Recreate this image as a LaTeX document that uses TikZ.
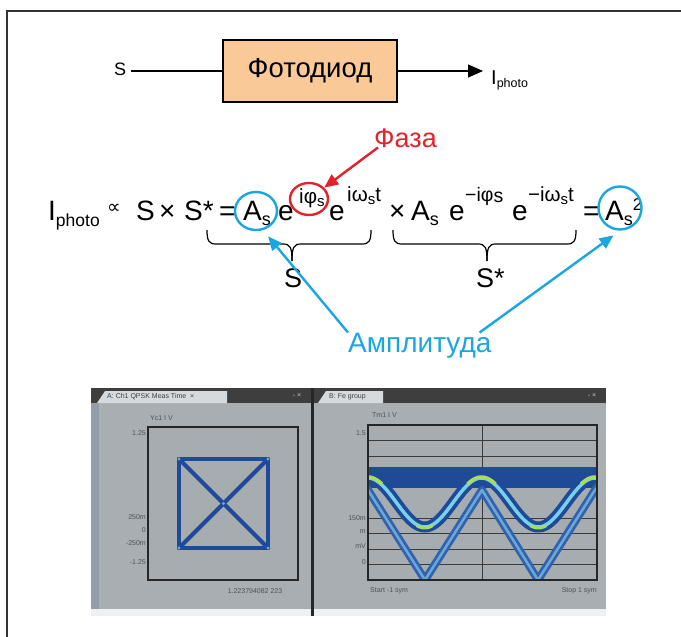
\documentclass[tikz,border=0pt]{standalone}
\usepackage{fontspec}
\setmainfont{Liberation Sans}
\newfontfamily\dejavu{DejaVu Sans}
\usetikzlibrary{arrows.meta,shapes.geometric}
\newcommand\fs[1]{\fontsize{#1}{#1}\selectfont}
\definecolor{cyanA}{HTML}{1AA7E0}
\definecolor{redA}{HTML}{E3232B}
\definecolor{boxfill}{HTML}{FAC998}
\definecolor{panel}{HTML}{A9AEB2}
\definecolor{panelstrip}{HTML}{939DA9}
\definecolor{plotbg}{HTML}{A6ACAF}
\definecolor{titlebar}{HTML}{3E3E3E}
\definecolor{tabc}{HTML}{D6DADC}
\definecolor{dblue}{HTML}{1F4A98}
\definecolor{mblue}{HTML}{2F63AE}
\definecolor{lblue}{HTML}{6FA6D8}
\definecolor{tcyan}{HTML}{79D0EC}
\definecolor{tgreen}{HTML}{A8DE5C}
\definecolor{gridc}{HTML}{3A3A3A}
\definecolor{smalltxt}{HTML}{4E5256}
\begin{document}
\begin{tikzpicture}[x=1pt,y=-1pt,
  eq/.style={anchor=base west,inner sep=0pt,font=\fs{28}},
  sup/.style={anchor=base west,inner sep=0pt,font=\fs{20.5}},
  bracepath/.style={line width=1.2pt,black},
  cyanarrow/.style={draw=cyanA,line width=2.4pt,-{Triangle[length=14pt,width=12pt]}},
  redarrow/.style={draw=redA,line width=2.4pt,-{Triangle[length=14pt,width=12pt]}},
  ring/.style={ellipse,draw,line width=2.4pt,inner sep=0pt},
  tiny/.style={inner sep=0pt,font=\fs{7},text=smalltxt},
  gridline/.style={draw=gridc,line width=0.8pt}]
\useasboundingbox (0,0) rectangle (681,637);
\fill[white] (0,0) rectangle (681,637);
% frame
\draw[line width=1.6pt,color=black!80] (7,637) -- (7,11) -- (681,11);

% ---- top block diagram ----
\node[anchor=base west,inner sep=0pt,font=\fs{18}] (sin) at (114,75) {S};
\node[draw,line width=1.2pt,fill=boxfill,minimum width=174pt,minimum height=62pt,inner sep=0pt,font=\fs{27.5}] (pd) at (310,71) {Фотодиод};
\node[anchor=base west,inner sep=0pt,font=\fs{20}] (iout) at (491,84) {I\raisebox{-3pt}{\fs{12.5}photo}};
\draw[line width=1.2pt] ([xshift=5pt]sin.east |- pd.west) -- (pd.west);
\draw[line width=1.2pt,-{Triangle[length=15pt,width=13pt]},shorten >=8pt] (pd.east) -- (pd.east -| iout.west);

% ---- equation ----
\node[eq] (ip) at (48,220) {I\raisebox{-6pt}{\fs{17.5}photo}};
\node[eq,font=\dejavu\fs{19}] (prop) at (107,213) {∝};
\node[eq] (s1) at (136,220) {S};
\node[eq] (x1) at (159,220) {×};
\node[eq] (s2) at (184,220) {S*};
\node[eq] (eq1) at (219,220) {=};
\node[eq] (a1) at (243,220) {A\raisebox{-5pt}{\fs{18}s}};
\node[eq] (e1) at (278,220) {e};
\node[sup] (ph1) at (299,203) {iφ\raisebox{-3pt}{\fs{15}s}};
\node[eq] (e2) at (329,220) {e};
\node[sup] (om1) at (347,201) {iω\raisebox{-3pt}{\fs{15}s}t};
\node[eq] (x2) at (389,220) {×};
\node[eq] (a2) at (411,220) {A\raisebox{-5pt}{\fs{18}s}};
\node[eq] (e3) at (449,220) {e};
\node[sup,font=\fs{19.5}] (ph2) at (465,201) {−iφ\raisebox{-1pt}{s}};
\node[eq] (e4) at (512,220) {e};
\node[sup] (om2) at (528,201) {−iω\raisebox{-3pt}{\fs{15}s}t};
\node[eq] (eq2) at (583,220) {=};
\node[eq] (a3) at (605,220) {A\raisebox{-5pt}{\fs{18}s}\raisebox{10pt}{\fs{17}2}};

% braces
\draw[bracepath] (207,230) .. controls (207,241) and (209,244) .. (216,244) -- (283,244) .. controls (290,244) and (292,247) .. (292,261);
\draw[bracepath] (292,261) .. controls (292,247) and (294,244) .. (301,244) -- (362,244) .. controls (369,244) and (371,241) .. (371,230);
\draw[bracepath] (393,230) .. controls (393,241) and (395,244) .. (402,244) -- (478,244) .. controls (485,244) and (487,247) .. (487,261);
\draw[bracepath] (487,261) .. controls (487,247) and (489,244) .. (496,244) -- (567,244) .. controls (574,244) and (576,241) .. (576,230);
\node[anchor=base west,inner sep=0pt,font=\fs{27}] (slab) at (284,287) {S};
\node[anchor=base west,inner sep=0pt,font=\fs{27}] (sslab) at (476,287) {S*};

% rings
\node[ring,draw=cyanA,minimum width=42pt,minimum height=38pt] (c1) at (256,211) {};
\node[ring,draw=redA,minimum width=38pt,minimum height=32pt] (rc) at (309,199) {};
\node[ring,draw=cyanA,minimum width=43pt,minimum height=43pt] (c2) at (620,208) {};

% labels and arrows
\node[anchor=base west,inner sep=0pt,font=\fs{27},text=redA] (fz) at (374,147) {Фаза};
\draw[redarrow] ([xshift=4pt]fz.south west) -- (rc);
\node[anchor=base west,inner sep=0pt,font=\fs{28},text=cyanA] (amp) at (348,352) {Амплитуда};
\draw[cyanarrow,shorten >=8pt] (amp.north west) -- (c1.290);
\draw[cyanarrow,shorten >=8pt] ([xshift=-12pt]amp.north east) -- (c2.south);

% ---- screenshots ----
% left panel
\fill[panel] (91,388) rectangle (311,616);
\fill[panelstrip] (91,403) rectangle (99,609);
\fill[titlebar] (91,388) rectangle (311,403);
\fill[tabc] (97,403) -- (105,391) -- (227,391) -- (227,403) -- cycle;
\node[tiny,anchor=west,text=black!75] (tabA) at (107,397) {A: Ch1 QPSK Meas Time \ ×};
\node[tiny,text=white!80!black] (ctlA) at (297,396) {- ×};
\fill[white!82!panel] (91,609) rectangle (311,616);
\node[draw=black!85,line width=1.5pt,fill=plotbg,minimum width=150pt,minimum height=153pt,inner sep=0pt] (plotA) at (223,503.5) {};
\node[tiny,anchor=west] (yla) at (150,418) {Yc1 I V};
\node[tiny,anchor=east] (la1) at (146,433) {1.25};
\node[tiny,anchor=east] (la2) at (146,517) {250m};
\node[tiny,anchor=east] (la3) at (146,530) {0};
\node[tiny,anchor=east] (la4) at (146,543) {-250m};
\node[tiny,anchor=east] (la5) at (146,562) {-1.25};
\node[tiny] (xla) at (255,591) {1.223794082 223};
% constellation
\draw[dblue,line width=4.5pt,line join=round] (179,459) rectangle (268,548);
\draw[dblue,line width=4pt,line cap=round] (179,459) -- (268,548);
\draw[dblue,line width=4pt,line cap=round] (268,459) -- (179,548);
\foreach \p in {(179,459),(268,459),(179,548),(268,548),(223.5,503.5)}
  \fill[lblue] \p circle (1.6pt);

% divider
\fill[black!85] (311,388) rectangle (314,616);

% right panel
\fill[panel] (314,388) rectangle (606,616);
\fill[titlebar] (314,388) rectangle (606,403);
\fill[tabc] (318,403) -- (326,391) -- (383,391) -- (383,403) -- cycle;
\node[tiny,anchor=west,text=black!75] (tabB) at (329,397) {B: Fe group};
\node[tiny,text=white!80!black] (ctlB) at (592,396) {- ×};
\fill[white!82!panel] (314,609) rectangle (606,616);
\fill[plotbg] (368,425) rectangle (597,580);
\foreach \yy in {440.5,456,471.5,487,518,533.5,549,564.5}
  \draw[gridline] (368,\yy) -- (597,\yy);
\draw[gridline] (482.5,425) -- (482.5,580);
\begin{scope}
\clip (368,425) rectangle (597,580);
\fill[dblue] (368,467) rectangle (597,488);
\draw[mblue,line width=8pt,line join=round] (360,478) -- (368,490) -- (425,580) -- (482,490) -- (538,580) -- (595,490) -- (605,478);
\draw[lblue,line width=2.5pt,line join=round] (360,478) -- (368,490) -- (425,580) -- (482,490) -- (538,580) -- (595,490) -- (605,478);
\draw[dblue,line width=11pt] plot[domain=360:605,samples=160] (\x,{502.5-24.5*cos(3.1718*(\x-368))});
\draw[tcyan,line width=3.5pt] plot[domain=360:605,samples=160] (\x,{502.5-24.5*cos(3.1718*(\x-368))});
\foreach \c in {368,481.5,595}
  \draw[tgreen,line width=3.5pt] plot[domain=\c-14:\c+14,samples=30] (\x,{501.5-24.5*cos(3.1718*(\x-368))});
\foreach \c in {424.7,538.2}
  \draw[tgreen,line width=3pt] plot[domain=\c-8:\c+8,samples=20] (\x,{503.5-24.5*cos(3.1718*(\x-368))});
\end{scope}
\node[draw=black!85,line width=1.5pt,minimum width=229pt,minimum height=155pt,inner sep=0pt] (plotB) at (482.5,502.5) {};
\node[tiny,anchor=west] (ylb) at (372,415) {Tm1 I V};
\node[tiny,anchor=east] (lb1) at (366,433) {1.5};
\node[tiny,anchor=east] (lb2) at (366,518) {150m};
\node[tiny,anchor=east] (lb3) at (366,532) {m};
\node[tiny,anchor=east] (lb4) at (366,546) {mV};
\node[tiny,anchor=east] (lb5) at (366,562) {0};
\node[tiny,anchor=west] (xlb1) at (370,591) {Start -1 sym};
\node[tiny,anchor=east] (xlb2) at (597,591) {Stop 1 sym};
\end{tikzpicture}
\end{document}
